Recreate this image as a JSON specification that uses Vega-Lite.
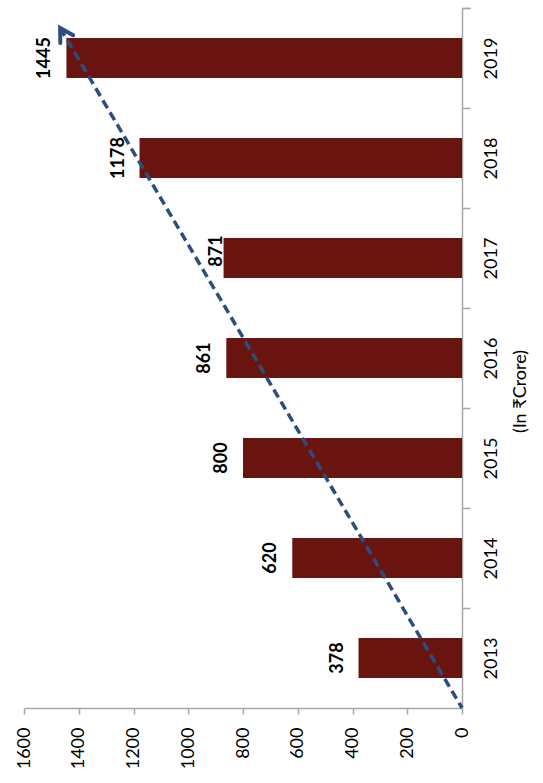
{
  "$schema": "https://vega.github.io/schema/vega-lite/v6.json",
  "width": 438,
  "height": 700,
  "autosize": {"type": "none"},
  "padding": {"left": 24, "top": 8, "right": 81, "bottom": 75},
  "background": "white",
  "config": {
    "view": {"stroke": null},
    "font": "Lato",
    "axis": {
      "grid": false,
      "domainColor": "#A6A6A6",
      "tickColor": "#A6A6A6",
      "domainWidth": 1.5,
      "tickWidth": 1.5,
      "labelColor": "#000000",
      "labelFont": "Lato",
      "labelFontSize": 18
    }
  },
  "datasets": {
    "sales": [
      {"year": "2013", "value": 378},
      {"year": "2014", "value": 620},
      {"year": "2015", "value": 800},
      {"year": "2016", "value": 861},
      {"year": "2017", "value": 871},
      {"year": "2018", "value": 1178},
      {"year": "2019", "value": 1445}
    ],
    "trend": [
      {"v": 0, "p": 0},
      {"v": 1468, "p": 6.8}
    ],
    "tip": [
      {"v": 1468, "p": 6.8}
    ]
  },
  "layer": [
    {
      "data": {"name": "sales"},
      "encoding": {
        "y": {
          "field": "year",
          "type": "nominal",
          "sort": "descending",
          "scale": {"paddingInner": 0.6, "paddingOuter": 0.3},
          "axis": {
            "orient": "right",
            "labelAngle": 270,
            "labelAlign": "center",
            "labelBaseline": "top",
            "bandPosition": 0,
            "tickExtra": true,
            "tickOffset": -30,
            "labelOffset": 30,
            "tickSize": 8,
            "labelPadding": 12,
            "title": "(In ₹Crore)",
            "titleFont": "Lato",
            "titleFontSize": 18,
            "titleFontWeight": "normal",
            "titleColor": "#000000",
            "titleAngle": 270,
            "titleAlign": "center",
            "titleBaseline": "middle",
            "titleX": 58,
            "titleY": 383
          }
        },
        "x": {
          "field": "value",
          "type": "quantitative",
          "scale": {"domain": [0, 1600], "reverse": true, "nice": false},
          "axis": {
            "orient": "bottom",
            "values": [0, 200, 400, 600, 800, 1000, 1200, 1400, 1600],
            "format": "d",
            "labelAngle": 270,
            "labelAlign": "right",
            "labelBaseline": "middle",
            "tickSize": 6,
            "labelPadding": 13,
            "title": null
          }
        }
      },
      "layer": [
        {"mark": {"type": "bar", "color": "#6A1410"}},
        {
          "transform": [{"filter": "datum.year !== '2017'"}],
          "mark": {
            "type": "text",
            "angle": 270,
            "align": "center",
            "baseline": "alphabetic",
            "dy": -16,
            "font": "Lato",
            "fontSize": 18,
            "fontWeight": "bold",
            "color": "#000000"
          },
          "encoding": {"text": {"field": "value", "type": "quantitative", "format": "d"}}
        },
        {
          "transform": [{"filter": "datum.year === '2017'"}],
          "mark": {
            "type": "text",
            "angle": 270,
            "align": "center",
            "baseline": "alphabetic",
            "dx": 7,
            "dy": -2,
            "font": "Lato",
            "fontSize": 18,
            "fontWeight": "bold",
            "color": "#000000"
          },
          "encoding": {"text": {"field": "value", "type": "quantitative", "format": "d"}}
        }
      ]
    },
    {
      "encoding": {
        "x": {"field": "v", "type": "quantitative"},
        "y": {
          "field": "p",
          "type": "quantitative",
          "scale": {"domain": [0, 7], "nice": false, "zero": false},
          "axis": null
        }
      },
      "layer": [
        {
          "data": {"name": "trend"},
          "mark": {
            "type": "line",
            "color": "#2B4E7E",
            "strokeWidth": 3.5,
            "strokeDash": [9, 5]
          }
        },
        {
          "data": {"name": "tip"},
          "mark": {
            "type": "point",
            "shape": "M-0.5,0.866L0,0L0.5,0.866",
            "filled": false,
            "stroke": "#2B4E7E",
            "strokeWidth": 4,
            "strokeCap": "round",
            "strokeJoin": "miter",
            "opacity": 1,
            "size": 900,
            "angle": 329.4
          }
        }
      ]
    }
  ],
  "resolve": {"scale": {"y": "independent"}}
}
